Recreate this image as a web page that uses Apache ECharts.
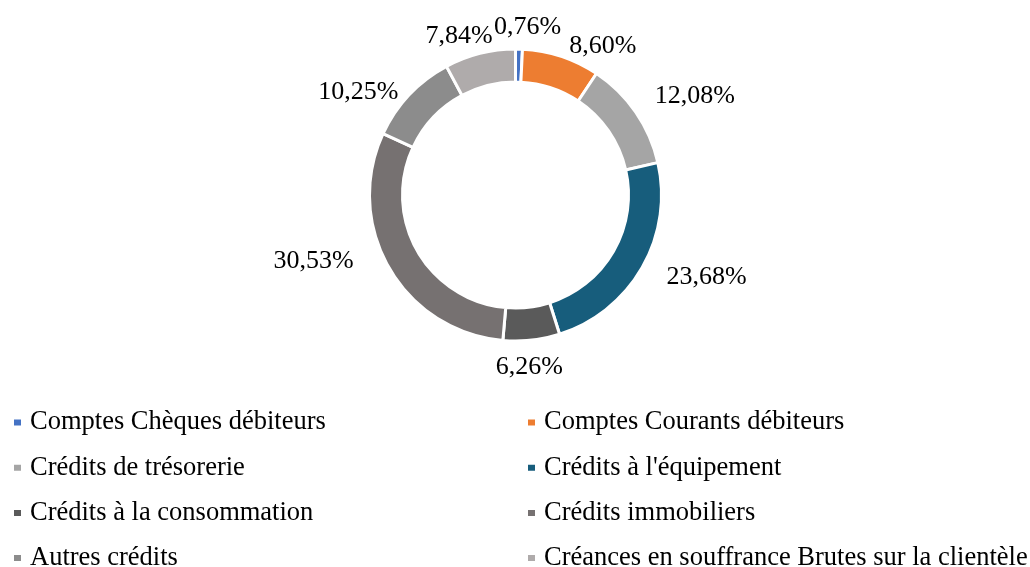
<!DOCTYPE html>
<html>
<head>
<meta charset="utf-8">
<script src="https://cdn.jsdelivr.net/npm/echarts@6/dist/echarts.min.js"></script>
<style>
  html, body { margin: 0; padding: 0; background: #fff; }
  #chart { width: 1030px; height: 567px; }
</style>
</head>
<body>
<div id="chart"></div>
<script>
// catégories et parts (%)
var categories = [
  "Comptes Chèques débiteurs",
  "Comptes Courants débiteurs",
  "Crédits de trésorerie",
  "Crédits à l'équipement",
  "Crédits à la consommation",
  "Crédits immobiliers",
  "Autres crédits",
  "Créances en souffrance Brutes sur la clientèle"
];
var parts = [0.76, 8.60, 12.08, 23.68, 6.26, 30.53, 10.25, 7.84];
var couleurs = ["#4472C4", "#ED7D31", "#A5A5A5", "#175D7C", "#5A5A5A", "#767171", "#8C8C8C", "#AFABAB"];

// placement des étiquettes à la Excel : décalage d'angle (degrés) et d'écart (px)
var decalage = [2.7, 11.9, 5.1, -7.1, 1.7, 12.4, -9.6, -5.3];
var ecart = [0, 4, 36, 37, 1, 42, 19, 0];

var fontFam = "'Liberation Serif', 'Times New Roman', serif";
var cx = 515.5, cy = 195, rIn = 113, rOut = 146, rLabel = 170;

var chart = echarts.init(document.getElementById("chart"));

var total = parts.reduce(function (a, b) { return a + b; }, 0);
var milieux = [];
var cumul = 0;
parts.forEach(function (v) {
  milieux.push((cumul + v / 2) / total * 360);
  cumul += v;
});

var data = categories.map(function (c, i) {
  return { name: c, value: parts[i], itemStyle: { color: couleurs[i] } };
});

function legendFor(idx, left) {
  return {
    orient: "vertical",
    left: left,
    top: 409,
    height: 250,
    padding: 0,
    itemWidth: 9,
    itemHeight: 8,
    itemGap: 18.2,
    icon: "rect",
    selectedMode: false,
    textStyle: { fontFamily: fontFam, fontSize: 26.5, lineHeight: 26, color: "#000", padding: [0, 0, 0, 3] },
    data: idx.map(function (i) { return categories[i]; })
  };
}

chart.setOption({
  animation: false,
  legend: [legendFor([0, 2, 4, 6], 12), legendFor([1, 3, 5, 7], 526)],
  series: [{
    type: "pie",
    center: [cx, cy],
    radius: [rIn, rOut],
    startAngle: 90,
    clockwise: true,
    avoidLabelOverlap: false,
    minShowLabelAngle: 0,
    itemStyle: { borderColor: "#fff", borderWidth: 3 },
    label: {
      show: true,
      position: "outside",
      fontFamily: fontFam,
      fontSize: 26,
      color: "#000",
      formatter: function (p) {
        return p.value.toFixed(2).replace(".", ",") + "%";
      }
    },
    labelLine: { show: false },
    labelLayout: function (p) {
      var i = p.dataIndex;
      var a = (milieux[i] + decalage[i]) * Math.PI / 180;
      var d = rLabel + ecart[i];
      return {
        x: cx + d * Math.sin(a),
        y: cy - d * Math.cos(a) + 2,
        align: "center",
        verticalAlign: "middle",
        hideOverlap: false
      };
    },
    data: data
  }]
});
</script>
</body>
</html>
